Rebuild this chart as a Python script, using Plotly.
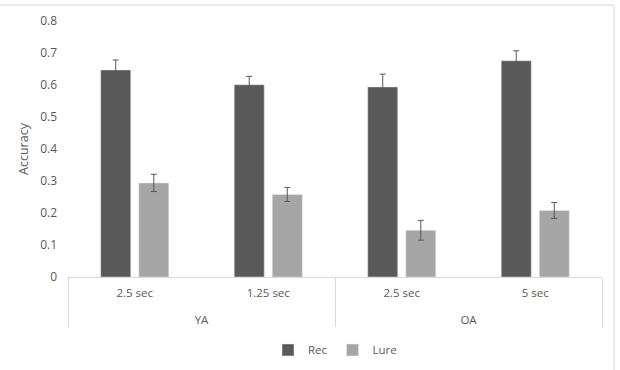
import plotly.graph_objects as go

groups = ["YA", "YA", "OA", "OA"]
conditions = ["2.5 sec", "1.25 sec", "2.5 sec", "5 sec"]
rec = [0.647, 0.601, 0.594, 0.676]
rec_err = [0.031, 0.026, 0.040, 0.031]
lure = [0.294, 0.258, 0.146, 0.208]
lure_err = [0.027, 0.022, 0.031, 0.025]

font_color = "#595959"
L, R, T, B = 68, 18, 21, 93
W, H = 620, 370
pw, ph = W - L - R, H - T - B

fig = go.Figure()
fig.add_trace(go.Bar(
    name="Rec", x=[["<br>" + g for g in groups], conditions], y=rec, marker_color="#595959",
    error_y=dict(type="data", array=rec_err, color="#595959", thickness=1, width=3),
))
fig.add_trace(go.Bar(
    name="Lure", x=[["<br>" + g for g in groups], conditions], y=lure, marker_color="#a6a6a6",
    error_y=dict(type="data", array=lure_err, color="#595959", thickness=1, width=3),
))

fig.add_shape(type="rect", xref="paper", yref="paper",
              x0=-0.3, x1=(614 - L) / pw, y0=-0.6, y1=(277 - 5) / ph,
              line=dict(color="#d9d9d9", width=1), fillcolor="rgba(0,0,0,0)", layer="below")

fig.update_layout(
    width=W, height=H,
    margin=dict(l=L, r=R, t=T, b=B, autoexpand=False),
    paper_bgcolor="white", plot_bgcolor="white",
    font=dict(family="Open Sans", size=11, color=font_color),
    barmode="group", bargap=0.43, bargroupgap=0.21,
    showlegend=True,
    legend=dict(orientation="h", x=0.5, xanchor="center", y=-0.285, yanchor="middle",
                font=dict(size=11.5, color=font_color), itemwidth=30),
    xaxis=dict(type="multicategory", showline=True, linecolor="#d9d9d9", linewidth=1,
               showgrid=False, ticks="", showdividers=True, dividercolor="#d9d9d9",
               dividerwidth=1, ticklabelstandoff=5,
               tickfont=dict(size=11.5, color=font_color)),
    yaxis=dict(range=[0, 0.8], dtick=0.1, showgrid=False, showline=False,
               zeroline=True, zerolinecolor="#d9d9d9", zerolinewidth=1,
               ticklabelstandoff=10,
               title=dict(text="Accuracy", font=dict(size=12.5, color=font_color), standoff=8),
               tickfont=dict(size=12, color=font_color)),
)

fig.write_html("out.html")
